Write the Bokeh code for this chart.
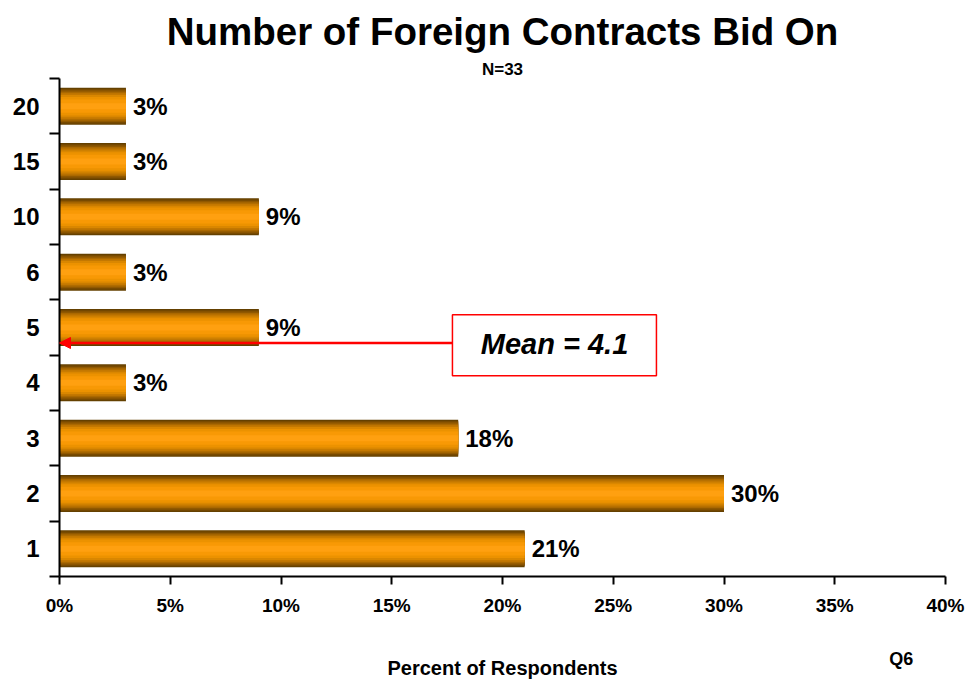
from bokeh.plotting import figure
from bokeh.models import (FixedTicker, Label, Arrow, NormalHead, BoxAnnotation,
                          Title, ColumnDataSource, Range1d, LinearAxis)
from bokeh.core.properties import value
from bokeh.embed import file_html
from bokeh.resources import INLINE

# ---- data ----
categories = ["1", "2", "3", "4", "5", "6", "10", "15", "20"]
percents = [21, 30, 18, 3, 9, 3, 9, 3, 3]
value_labels = ["21%", "30%", "18%", "3%", "9%", "3%", "9%", "3%", "3%"]
x_ticks = [0, 5, 10, 15, 20, 25, 30, 35, 40]
x_tick_labels = ["0%", "5%", "10%", "15%", "20%", "25%", "30%", "35%", "40%"]
title_text = "Number of Foreign Contracts Bid On"
sample_text = "N=33"
x_title = "Percent of Respondents"
question_text = "Q6"
mean_text = "Mean = 4.1"

FONT = "Liberation Sans"
ypos = [i + 1 for i in range(len(categories))]

p = figure(width=974, height=681, output_backend="svg", toolbar_location=None,
           title=None, x_range=Range1d(0, 40), y_range=Range1d(0.5, len(categories) + 0.5),
           min_border_left=59, min_border_right=29, min_border_top=78, min_border_bottom=104)
p.outline_line_color = None
p.xgrid.visible = False
p.ygrid.visible = False
p.background_fill_color = "white"
p.border_fill_color = "white"

# titles (first added sits closest to the frame)
sub = Title(text=sample_text, align="center", text_font=FONT, text_font_size="17px",
            text_font_style="bold", text_color="black", standoff=0, offset=4)
p.add_layout(sub, "above")
main = Title(text=title_text, align="center", text_font=FONT, text_font_size="38.5px",
             text_font_style="bold", text_color="black", standoff=9, offset=4)
p.add_layout(main, "above")

# gradient bars: stacked layers
src = ColumnDataSource(dict(y=ypos, right=percents, lab=value_labels))
bar_h = 0.67
shade_colors = ["#644000", "#784a00", "#905800", "#aa6800", "#c47800", "#da8700",
                "#ec9200", "#f89905", "#ffa010"]
shade_fracs = [1.0, 0.93, 0.86, 0.78, 0.70, 0.60, 0.50, 0.36, 0.16]
for c, f in zip(shade_colors, shade_fracs):
    p.hbar(y="y", right="right", left=0, height=bar_h * f, source=src,
           fill_color=c, line_color=None)

p.text(x="right", y="y", text="lab", source=src, x_offset=7,
       text_font=value(FONT), text_font_size="24px", text_font_style="bold",
       text_baseline="middle", text_align="left", text_color="black")

# axes
xa = p.xaxis[0]
xa.ticker = FixedTicker(ticks=x_ticks)
xa.major_label_overrides = {t: l for t, l in zip(x_ticks, x_tick_labels)}
xa.major_tick_out = 8
xa.major_tick_in = 0
xa.minor_tick_out = 0
xa.minor_tick_in = 0
xa.axis_line_width = 2
xa.axis_line_color = "black"
xa.major_tick_line_width = 2
xa.major_tick_line_color = "black"
xa.major_label_text_font = FONT
xa.major_label_text_font_size = "19px"
xa.major_label_text_font_style = "bold"
xa.major_label_text_color = "black"
xa.major_label_standoff = 10

# second (label-only) axis underneath: question tag + axis title
xb = LinearAxis(ticker=FixedTicker(ticks=[38]),
                major_label_overrides={38: question_text},
                axis_line_color=None, major_tick_line_color=None, minor_tick_line_color=None,
                major_tick_out=0, major_tick_in=0, minor_tick_out=0, minor_tick_in=0,
                major_label_standoff=30,
                major_label_text_font=FONT, major_label_text_font_size="18px",
                major_label_text_font_style="bold", major_label_text_color="black",
                axis_label=x_title, axis_label_standoff=-15,
                axis_label_text_font=FONT, axis_label_text_font_size="20px",
                axis_label_text_font_style="bold", axis_label_text_color="black")
p.add_layout(xb, "below")

ya = p.yaxis[0]
ya.ticker = FixedTicker(ticks=ypos, minor_ticks=[y - 0.5 for y in ypos] + [len(ypos) + 0.5])
ya.major_label_overrides = {y: c for y, c in zip(ypos, categories)}
ya.major_tick_out = 0
ya.major_tick_in = 0
ya.minor_tick_out = 10
ya.minor_tick_in = 0
ya.minor_tick_line_width = 2
ya.minor_tick_line_color = "black"
ya.axis_line_width = 2
ya.axis_line_color = "black"
ya.major_label_text_font = FONT
ya.major_label_text_font_size = "24px"
ya.major_label_text_font_style = "bold"
ya.major_label_text_color = "black"
ya.major_label_standoff = 10

# mean annotation
box = BoxAnnotation(left=17.74, right=26.95, bottom=4.13, top=5.23,
                    fill_color="white", fill_alpha=1.0, line_color="red", line_alpha=1.0,
                    line_width=1.5)
p.add_layout(box)
arrow = Arrow(end=NormalHead(size=11, fill_color="red", line_color="red"),
              x_start=17.74, y_start=4.72, x_end=0, y_end=4.72,
              line_color="red", line_width=2.5)
p.add_layout(arrow)
p.add_layout(Label(x=22.35, y=4.7, text=mean_text, text_align="center",
                   text_baseline="middle", text_font=FONT, text_font_size="29px",
                   text_font_style="bold italic", text_color="black"))

open("out.html", "w").write(file_html(p, INLINE))
